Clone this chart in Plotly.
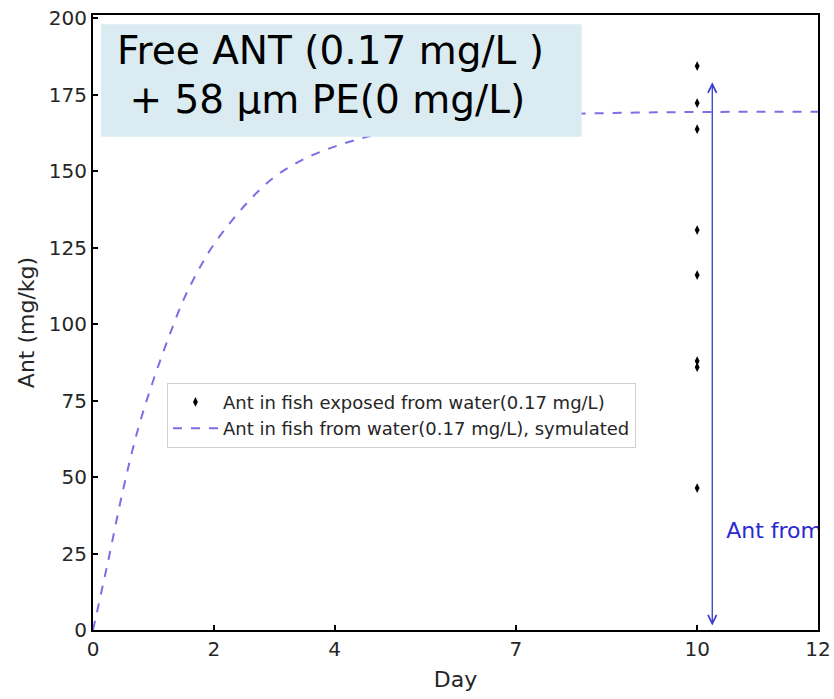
import plotly.graph_objects as go

# Observed data (day 10)
obs_day = [10, 10, 10, 10, 10, 10, 10, 10]
obs_ant = [184.3, 172.2, 163.7, 130.7, 116.0, 87.9, 85.9, 46.4]

# Simulated curve
sim_day = [0, 0.25, 0.5, 0.75, 1.0, 1.25, 1.5, 1.75, 2.0, 2.5, 3.0, 3.5, 4.0, 4.5, 5.0, 6.0, 7.0, 8.0, 9.0, 10.0, 12.0]
sim_ant = [0, 22.5, 46, 66, 81.7, 95.5, 108, 117.8, 126, 138.5, 148, 154, 158, 161, 163.2, 166, 167.8, 168.7, 169.1, 169.3, 169.4]

x_ticks = [0, 2, 4, 7, 10, 12]
y_ticks = [0, 25, 50, 75, 100, 125, 150, 175, 200]

arrow_x = 10.25
arrow_y_low = 1
arrow_y_high = 179
label_x = 10.48
label_y = 32

fig = go.Figure()
fig.add_trace(go.Scatter(
    x=obs_day, y=obs_ant, mode="markers",
    marker=dict(symbol="diamond-tall", size=7, color="black"),
    name="Ant in fish exposed from water(0.17 mg/L)",
))
fig.add_trace(go.Scatter(
    x=sim_day, y=sim_ant, mode="lines", line_shape="spline",
    line=dict(color="#7b6fe6", width=2, dash="dash"),
    name="Ant in fish from water(0.17 mg/L), symulated",
))
fig.add_trace(go.Scatter(
    x=[label_x], y=[label_y], mode="text", text=["Ant from"],
    textposition="middle right", cliponaxis=True, showlegend=False,
    textfont=dict(family="DejaVu Sans", size=22, color="#2a2ad0"),
    hoverinfo="skip",
))

fig.add_annotation(
    x=arrow_x, y=arrow_y_high, ax=arrow_x, ay=arrow_y_low,
    xref="x", yref="y", axref="x", ayref="y",
    showarrow=True, arrowhead=5, startarrowhead=5, arrowside="end+start",
    arrowsize=1.3, startarrowsize=1.3, arrowwidth=1.3, arrowcolor="#3a3acc", text="",
)

fig.add_shape(type="rect", xref="x domain", yref="y domain",
              x0=0.011, x1=0.674, y0=0.802, y1=0.985,
              fillcolor="#daecf2", line=dict(width=0), layer="above")
title_font = dict(family="DejaVu Sans", size=39, color="black")
fig.add_annotation(
    xref="x domain", yref="y domain", x=0.030, y=0.943,
    xanchor="left", yanchor="middle", align="left", showarrow=False,
    text="Free ANT (0.17 mg/L )", font=title_font,
)
fig.add_annotation(
    xref="x domain", yref="y domain", x=0.030, y=0.863,
    xanchor="left", yanchor="middle", align="left", showarrow=False,
    text="\u00a0+ 58 μm PE(0 mg/L)", font=title_font,
)

axis_common = dict(
    showline=True, linecolor="black", linewidth=2, mirror=True,
    ticks="inside", ticklen=5, tickwidth=2, tickcolor="black",
    showgrid=False, zeroline=False, automargin=False,
    tickfont=dict(family="DejaVu Sans", size=20, color="#262626"),
)

fig.update_layout(
    width=834, height=699,
    margin=dict(l=93, r=16, t=15, b=69),
    paper_bgcolor="white", plot_bgcolor="white",
    xaxis=dict(range=[0, 12], tickvals=x_ticks, ticktext=[str(v) for v in x_ticks],
               title=dict(text="Day", font=dict(family="DejaVu Sans", size=22, color="#262626"), standoff=12),
               **axis_common),
    yaxis=dict(range=[0, 201], tickvals=y_ticks, ticktext=[str(v) for v in y_ticks],
               title=dict(text="Ant (mg/kg)", font=dict(family="DejaVu Sans", size=22, color="#262626"), standoff=8),
               **axis_common),
    legend=dict(x=0.102, y=0.402, xanchor="left", yanchor="top", itemwidth=45,
                bgcolor="rgba(255,255,255,0.8)", bordercolor="#d0d0d0", borderwidth=1,
                font=dict(family="DejaVu Sans", size=18, color="#262626")),
    showlegend=True,
)

fig.write_html("out.html")
